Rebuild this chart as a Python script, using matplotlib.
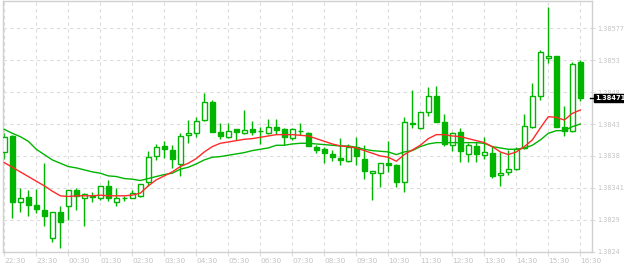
import numpy as np
import matplotlib
matplotlib.use('Agg')
import matplotlib.pyplot as plt
from matplotlib.patches import Rectangle

# 15-minute candles, prices
opens = [1.38390, 1.38414, 1.38314, 1.38322, 1.38310, 1.38303, 1.38261, 1.38300, 1.38309, 1.38333,
         1.38321, 1.38324, 1.38320, 1.38339, 1.38315, 1.38321, 1.38321, 1.38324, 1.38345, 1.38384,
         1.38399, 1.38393, 1.38372, 1.38416, 1.38418, 1.38438, 1.38465, 1.38420, 1.38412, 1.38424,
         1.38418, 1.38424, 1.38422, 1.38418, 1.38428, 1.38424, 1.38411, 1.38421, 1.38418, 1.38398,
         1.38394, 1.38387, 1.38381, 1.38376, 1.38398, 1.38380, 1.38358, 1.38358, 1.38374, 1.38370,
         1.38345, 1.38434, 1.38426, 1.38450, 1.38474, 1.38435, 1.38400, 1.38420, 1.38387, 1.38399,
         1.38386, 1.38388, 1.38356, 1.38360, 1.38364, 1.38396, 1.38428, 1.38474, 1.38531, 1.38534,
         1.38428, 1.38422, 1.38525]
highs = [1.38418, 1.38416, 1.38336, 1.38333, 1.38334, 1.38374, 1.38300, 1.38308, 1.38332, 1.38336,
         1.38328, 1.38330, 1.38339, 1.38348, 1.38336, 1.38324, 1.38333, 1.38342, 1.38392, 1.38402,
         1.38406, 1.38400, 1.38418, 1.38438, 1.38442, 1.38478, 1.38468, 1.38434, 1.38434, 1.38424,
         1.38453, 1.38436, 1.38428, 1.38440, 1.38440, 1.38426, 1.38426, 1.38434, 1.38420, 1.38400,
         1.38398, 1.38393, 1.38411, 1.38402, 1.38412, 1.38400, 1.38362, 1.38374, 1.38406, 1.38372,
         1.38442, 1.38483, 1.38450, 1.38488, 1.38489, 1.38447, 1.38420, 1.38426, 1.38404, 1.38405,
         1.38412, 1.38399, 1.38390, 1.38393, 1.38398, 1.38447, 1.38494, 1.38544, 1.38608, 1.38534,
         1.38459, 1.38526, 1.38528]
lows = [1.38380, 1.38290, 1.38300, 1.38294, 1.38298, 1.38279, 1.38254, 1.38246, 1.38288, 1.38302,
        1.38278, 1.38314, 1.38318, 1.38316, 1.38309, 1.38316, 1.38320, 1.38322, 1.38339, 1.38378,
        1.38381, 1.38366, 1.38354, 1.38404, 1.38412, 1.38436, 1.38420, 1.38410, 1.38411, 1.38408,
        1.38417, 1.38416, 1.38402, 1.38417, 1.38417, 1.38400, 1.38408, 1.38416, 1.38399, 1.38388,
        1.38374, 1.38376, 1.38370, 1.38375, 1.38370, 1.38350, 1.38318, 1.38338, 1.38360, 1.38338,
        1.38330, 1.38426, 1.38424, 1.38444, 1.38472, 1.38399, 1.38392, 1.38375, 1.38375, 1.38375,
        1.38380, 1.38351, 1.38339, 1.38356, 1.38363, 1.38394, 1.38426, 1.38468, 1.38524, 1.38428,
        1.38414, 1.38420, 1.38466]
closes = [1.38412, 1.38315, 1.38321, 1.38310, 1.38304, 1.38294, 1.38300, 1.38285, 1.38332, 1.38324,
          1.38326, 1.38322, 1.38339, 1.38321, 1.38321, 1.38321, 1.38328, 1.38342, 1.38382, 1.38398,
          1.38394, 1.38380, 1.38414, 1.38418, 1.38436, 1.38465, 1.38420, 1.38414, 1.38422, 1.38420,
          1.38423, 1.38420, 1.38422, 1.38428, 1.38423, 1.38412, 1.38424, 1.38422, 1.38399, 1.38393,
          1.38388, 1.38382, 1.38378, 1.38398, 1.38384, 1.38362, 1.38362, 1.38374, 1.38370, 1.38345,
          1.38435, 1.38432, 1.38450, 1.38474, 1.38435, 1.38402, 1.38418, 1.38392, 1.38400, 1.38387,
          1.38390, 1.38354, 1.38358, 1.38364, 1.38394, 1.38429, 1.38474, 1.38540, 1.38534, 1.38428,
          1.38422, 1.38522, 1.38471]

# moving averages (fast = red, slow = green)
ma_fast = [1.38374, 1.38367, 1.38360, 1.38353, 1.38346, 1.38339, 1.38331, 1.38324, 1.38323, 1.38324,
           1.38324, 1.38324, 1.38325, 1.38324, 1.38324, 1.38324, 1.38325, 1.38328, 1.38339, 1.38348,
           1.38354, 1.38360, 1.38368, 1.38373, 1.38380, 1.38390, 1.38398, 1.38403, 1.38405, 1.38407,
           1.38409, 1.38410, 1.38412, 1.38414, 1.38416, 1.38416, 1.38416, 1.38415, 1.38414, 1.38410,
           1.38406, 1.38402, 1.38399, 1.38398, 1.38396, 1.38392, 1.38388, 1.38384, 1.38382, 1.38376,
           1.38386, 1.38393, 1.38400, 1.38410, 1.38416, 1.38416, 1.38414, 1.38413, 1.38410, 1.38407,
           1.38404, 1.38398, 1.38390, 1.38386, 1.38390, 1.38398, 1.38408, 1.38426, 1.38443, 1.38442,
           1.38438, 1.38448, 1.38453]
ma_slow = [1.38424, 1.38418, 1.38413, 1.38406, 1.38394, 1.38386, 1.38378, 1.38373, 1.38368, 1.38366,
           1.38363, 1.38360, 1.38358, 1.38354, 1.38353, 1.38350, 1.38349, 1.38347, 1.38350, 1.38353,
           1.38356, 1.38358, 1.38364, 1.38367, 1.38372, 1.38378, 1.38382, 1.38383, 1.38385, 1.38387,
           1.38389, 1.38392, 1.38394, 1.38396, 1.38400, 1.38400, 1.38402, 1.38403, 1.38403, 1.38402,
           1.38401, 1.38400, 1.38399, 1.38399, 1.38397, 1.38394, 1.38392, 1.38391, 1.38390, 1.38386,
           1.38390, 1.38392, 1.38398, 1.38402, 1.38404, 1.38404, 1.38404, 1.38404, 1.38404, 1.38404,
           1.38403, 1.38398, 1.38396, 1.38394, 1.38394, 1.38396, 1.38400, 1.38408, 1.38418, 1.38422,
           1.38422, 1.38428, 1.38432]

time_labels = ['22:30', '23:30', '00:30', '01:30', '02:30', '03:30', '04:30', '05:30', '06:30', '07:30',
               '08:30', '09:30', '10:30', '11:30', '12:30', '13:30', '14:30', '15:30', '16:30']
price_ticks = [1.3824, 1.38288, 1.38336, 1.38384, 1.38432, 1.3848, 1.38528, 1.38576]
price_labels = ['1.3824', '1.3829', '1.38341', '1.3838', '1.3843', '1.3848', '1.3853', '1.38577']
last_label = '1.38471'

GREEN = '#00b400'
RED = '#ff2a2a'
GRID = '#dcdcdc'
TXT = '#c4c4c4'

fig = plt.figure(figsize=(6.24, 2.66), dpi=100)
ax = fig.add_axes([3 / 624, 14 / 266, 589 / 624, 251 / 266])

x = np.arange(len(opens))
w = 0.6
for i in x:
    o, h, l, c = opens[i], highs[i], lows[i], closes[i]
    ax.plot([i, i], [l, h], color=GREEN, lw=1.0, zorder=2, solid_capstyle='butt')
    bottom = min(o, c)
    height = abs(c - o)
    face = 'white' if c >= o else GREEN
    ax.add_patch(Rectangle((i - w / 2, bottom), w, height, facecolor=face,
                           edgecolor=GREEN, lw=1.0, zorder=3))

ax.plot(x, ma_slow, color=GREEN, lw=1.0, zorder=4)
ax.plot(x, ma_fast, color=RED, lw=1.0, zorder=4)

ax.set_xlim(-0.16, 73.46)
ax.set_ylim(1.3824 - 0.000005, 1.38617)

ax.set_xticks(np.arange(0, 73, 4))
ax.set_xticklabels(time_labels, ha='left', fontsize=5.3, color=TXT)
ax.set_yticks(price_ticks)
ax.set_yticklabels(price_labels, fontsize=4.7, color=TXT)
ax.get_yticklabels()[0].set_va('bottom')
ax.yaxis.tick_right()
ax.tick_params(axis='x', length=3, color=GRID, pad=1.5)
ax.tick_params(axis='y', length=2, color=GRID, pad=1.5)
ax.grid(True, color=GRID, linestyle=(0, (3, 3)), lw=0.8)
ax.set_axisbelow(True)
for s in ax.spines.values():
    s.set_color('#d0d0d0')
    s.set_linewidth(1.0)

# last price marker
ax.annotate(last_label, xy=(1.0, closes[-1]), xycoords=('axes fraction', 'data'),
            xytext=(2.2, 0), textcoords='offset points', va='center', ha='left',
            fontsize=4.8, color='white', fontweight='bold',
            bbox=dict(boxstyle='square,pad=0.2', fc='black', ec='black'),
            annotation_clip=False)
ax.plot([0.996, 1.006], [closes[-1], closes[-1]], transform=ax.get_yaxis_transform(),
        color='black', lw=1.0, clip_on=False, zorder=5)

fig.savefig('out.png', dpi=100)
